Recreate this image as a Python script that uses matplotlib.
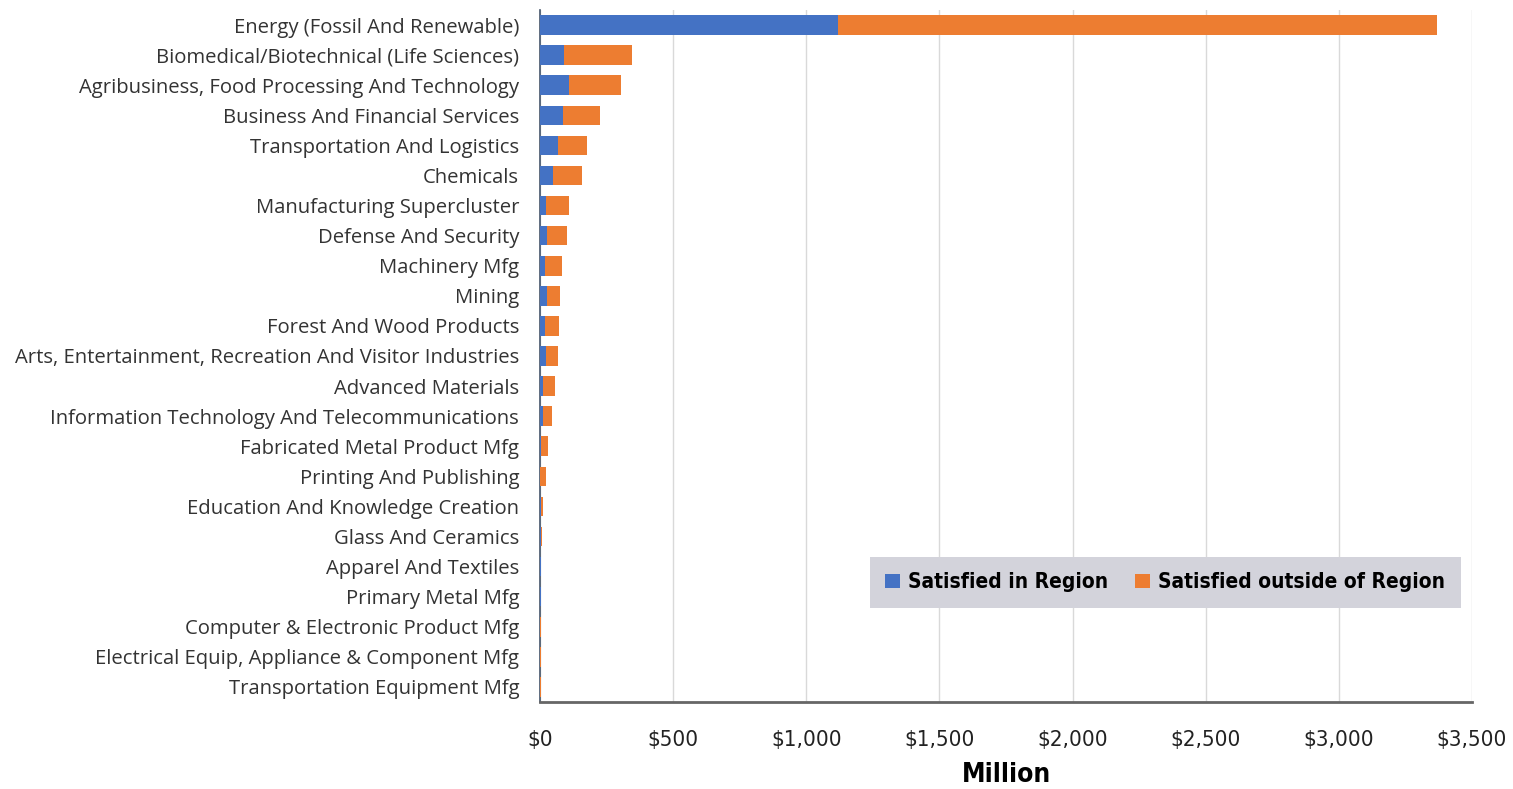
import matplotlib
matplotlib.use("Agg")
import matplotlib.pyplot as plt
from matplotlib.ticker import FuncFormatter
import matplotlib.font_manager as fm

categories = [
    "Energy (Fossil And Renewable)",
    "Biomedical/Biotechnical (Life Sciences)",
    "Agribusiness, Food Processing And Technology",
    "Business And Financial Services",
    "Transportation And Logistics",
    "Chemicals",
    "Manufacturing Supercluster",
    "Defense And Security",
    "Machinery Mfg",
    "Mining",
    "Forest And Wood Products",
    "Arts, Entertainment, Recreation And Visitor Industries",
    "Advanced Materials",
    "Information Technology And Telecommunications",
    "Fabricated Metal Product Mfg",
    "Printing And Publishing",
    "Education And Knowledge Creation",
    "Glass And Ceramics",
    "Apparel And Textiles",
    "Primary Metal Mfg",
    "Computer & Electronic Product Mfg",
    "Electrical Equip, Appliance & Component Mfg",
    "Transportation Equipment Mfg",
]
in_region = [1118, 91, 110, 87, 69, 50, 22, 27, 17, 27, 19, 22, 10, 12, 3, 1, 4, 2, 2, 2, 1, 1, 1]
outside_region = [2249, 253, 196, 139, 106, 106, 88, 73, 65, 49, 53, 45, 47, 33, 27, 20, 8, 4, 3, 3, 3, 3, 3]
xticks = [0, 500, 1000, 1500, 2000, 2500, 3000, 3500]

label_font = "Open Sans"
cond = fm.FontProperties(family="DejaVu Sans", stretch="condensed", size=16)
cond_bold = fm.FontProperties(family="DejaVu Sans", stretch="condensed", weight="bold", size=15)

fig = plt.figure(figsize=(15.13, 7.89), dpi=100)
ax = fig.add_axes([540/1513, 1-702/789, (1472-540)/1513, (702-10)/789])

y = list(range(len(categories)))
ax.barh(y, in_region, height=0.65, color="#4472C4", label="Satisfied in Region", zorder=3)
ax.barh(y, outside_region, left=in_region, height=0.65, color="#ED7D31",
        label="Satisfied outside of Region", zorder=3)

ax.set_ylim(len(categories)-0.5, -0.5)
ax.set_xlim(0, 3500)
ax.set_yticks(y)
ax.set_yticklabels(categories, fontname=label_font, fontsize=14.6, color="#333333")
ax.set_xticks(xticks)
ax.xaxis.set_major_formatter(FuncFormatter(lambda v, p: "${:,.0f}".format(v)))
for t in ax.get_xticklabels():
    t.set_fontproperties(cond)
    t.set_color("#222222")
ax.tick_params(axis="both", length=0)
ax.tick_params(axis="x", pad=20)
ax.tick_params(axis="y", pad=15)

ax.grid(axis="x", color="#d9d9d9", linewidth=1, zorder=0)
for s in ["top", "right"]:
    ax.spines[s].set_visible(False)
ax.spines["left"].set_color("#44546A")
ax.spines["left"].set_linewidth(1.2)
ax.spines["bottom"].set_color("#666666")
ax.spines["bottom"].set_linewidth(2)

xl = ax.set_xlabel("Million", labelpad=9)
xl.set_fontproperties(fm.FontProperties(family="DejaVu Sans", stretch="condensed", weight="bold", size=19))

leg = ax.legend(loc="center", bbox_to_anchor=(0.671, 0.1727),
                ncol=2, frameon=True, fancybox=False, facecolor="#d3d3db", edgecolor="none",
                framealpha=1, prop=cond_bold,
                handlelength=0.7, handleheight=0.7, handletextpad=0.4, columnspacing=1.3,
                borderpad=0.75, borderaxespad=0)

fig.savefig("out.png", dpi=100)
